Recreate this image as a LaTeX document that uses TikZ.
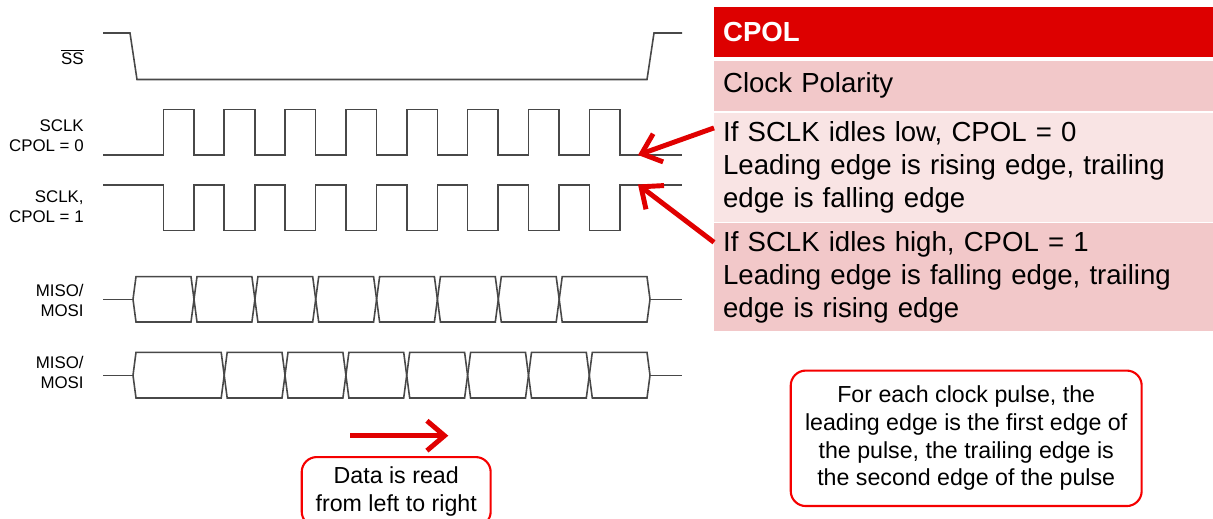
\documentclass[tikz,border=0pt]{standalone}
\usepackage{fontspec}
\setmainfont{Liberation Sans}
\usetikzlibrary{arrows.meta,positioning}
\definecolor{headred}{RGB}{221,0,0}
\definecolor{rowpink}{RGB}{242,200,201}
\definecolor{rowlight}{RGB}{249,228,228}
\definecolor{arrowred}{RGB}{224,0,0}
\definecolor{boxred}{RGB}{245,0,0}
\definecolor{wavegray}{RGB}{72,72,72}

\begin{document}
\begin{tikzpicture}[x=0.02cm,y=-0.02cm,node distance=0.04cm]
  \tikzstyle{wave}=[draw=wavegray,line width=0.9pt]
  \tikzstyle{lbl}=[anchor=east,align=right,inner sep=0pt,font=\fontsize{9.6}{11.4}\selectfont]
  \tikzstyle{cell}=[anchor=north west,minimum width=9.98cm,text width=9.63cm,inner xsep=0.17cm,inner ysep=0pt,align=left,font=\fontsize{15.7}{18.8}\selectfont]
  \tikzstyle{note}=[draw=boxred,line width=1.2pt,rounded corners=0.3cm,align=center,font=\fontsize{13.2}{15.8}\selectfont]
  \tikzstyle{pointer}=[draw=arrowred,line width=2.8pt,-{Straight Barb[length=10pt,width=17pt]}]

    \useasboundingbox (0,0) rectangle (1213,518);
    \clip (0,0) rectangle (1213,518);

    % signal names
    \node [lbl] (ss)    at (84,57)    {$\overline{\hbox{SS}}$};
    \node [lbl] (clk0)  at (84,136)   {SCLK\\CPOL = 0};
    \node [lbl] (clk1)  at (84,207)   {SCLK,\\CPOL = 1};
    \node [lbl] (bus0)  at (84,300.7) {MISO/\\MOSI};
    \node [lbl] (bus1)  at (84,372.3) {MISO/\\MOSI};

    % waveforms
    \draw [wave] (103,33) -- (130,33) -- (137,79.5) -- (647,79.5) -- (654,33) -- (682,33);
    \draw [wave] (103,155) \foreach \i in {0,...,7}{
        -- ({163.3+60.86*\i},155) -- ({163.3+60.86*\i},109.5)
        -- ({193.9+60.86*\i},109.5) -- ({193.9+60.86*\i},155)} -- (682,155);
    \draw [wave] (103,185) \foreach \i in {0,...,7}{
        -- ({163.3+60.86*\i},185) -- ({163.3+60.86*\i},230.5)
        -- ({193.9+60.86*\i},230.5) -- ({193.9+60.86*\i},185)} -- (682,185);
    \draw [wave] (103,299.3) -- (133,299.3) (650,299.3) -- (682,299.3);
    \foreach \a/\b in {133/194,194/254.9,254.9/315.7,315.7/376.6,376.6/437.4,437.4/498.3,498.3/559.2,559.2/650}
        \draw [wave] (\a,299.3) -- (\a+3,276.7) -- (\b-3,276.7) -- (\b,299.3) -- (\b-3,322) -- (\a+3,322) -- cycle;
    \draw [wave] (103,375.3) -- (133,375.3) (650,375.3) -- (682,375.3);
    \foreach \a/\b in {133/224.2,224.2/285,285/345.9,345.9/406.7,406.7/467.6,467.6/528.5,528.5/589.3,589.3/650}
        \draw [wave] (\a,375.3) -- (\a+3,352.3) -- (\b-3,352.3) -- (\b,375.3) -- (\b-3,398) -- (\a+3,398) -- cycle;

    \coordinate (tip0) at (638,155);
    \coordinate (tip1) at (638,184.5);

    % CPOL table
    \node [cell,fill=headred,text=white,font=\bfseries\fontsize{15.7}{18.8}\selectfont,minimum height=1cm] (head) at (714,7) {CPOL};
    \node [cell,fill=rowpink,minimum height=1.01cm,anchor=north,below=0.05cm of head] (pol) {Clock Polarity};
    \node [cell,fill=rowlight,minimum height=2.17cm,anchor=north,below=0.03cm of pol] (low)
        {If SCLK idles low, CPOL = 0\\Leading edge is rising edge, trailing\\edge is falling edge};
    \node [cell,fill=rowpink,minimum height=2.16cm,anchor=north,below=0.02cm of low] (high)
        {If SCLK idles high, CPOL = 1\\Leading edge is falling edge, trailing\\edge is rising edge};

    \draw [pointer] (low.171) -- (tip0);
    \draw [pointer] (high.172) -- (tip1);

    % notes
    \coordinate (dstart) at (350,435.7);
    \coordinate (dend) at (448.3,435.7);
    \draw [pointer] (dstart) -- (dend);
    \node [note,minimum width=3.78cm,minimum height=1.39cm,anchor=north] (readnote) at (396.2,456)
        {Data is read\\from left to right};
    \node [note,minimum width=7.02cm,minimum height=2.71cm] (edgenote) at (966.2,438.3)
        {For each clock pulse, the\\leading edge is the first edge of\\the pulse, the trailing edge is\\the second edge of the pulse};
\end{tikzpicture}
\end{document}
